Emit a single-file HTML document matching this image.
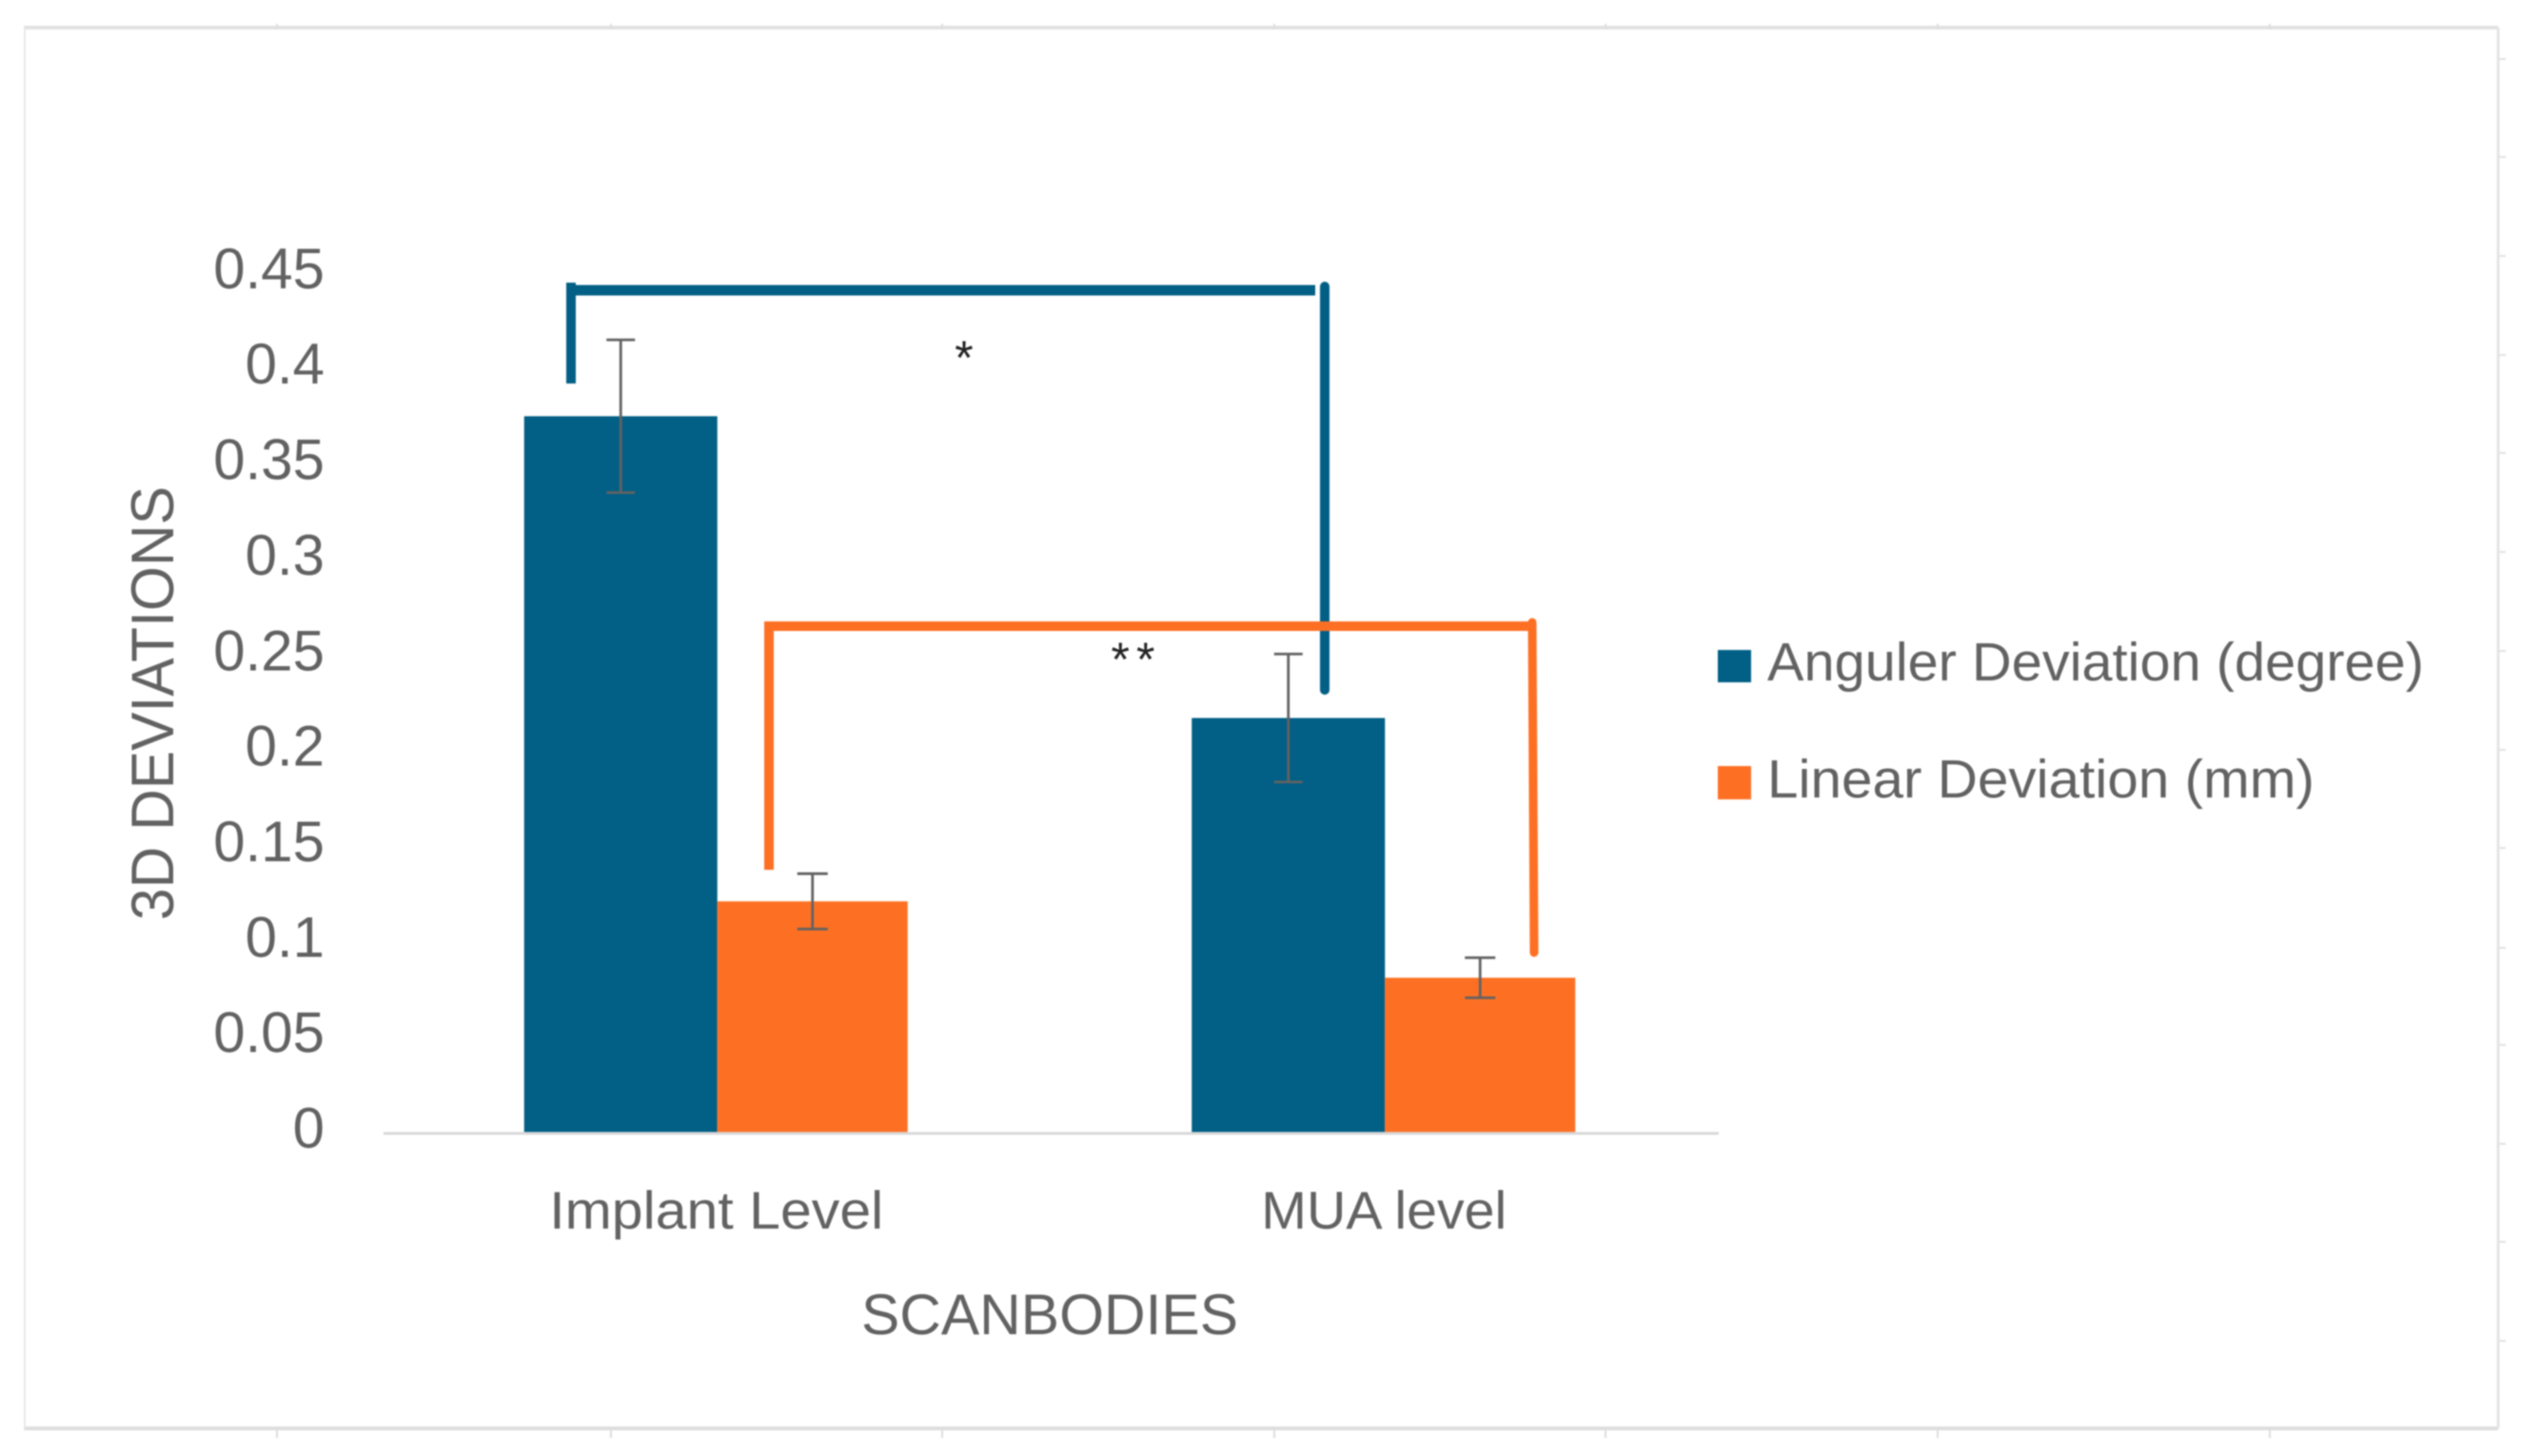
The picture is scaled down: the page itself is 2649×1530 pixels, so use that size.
<!DOCTYPE html>
<html lang="en">
<head>
<meta charset="utf-8">
<title>3D deviations by scanbody</title>
<style>
  html, body { margin: 0; padding: 0; background: #fff; }
  body { width: 2649px; height: 1530px; overflow: hidden; }
  svg { display: block; filter: blur(0.8px); }
  text { font-family: "Liberation Sans", sans-serif; fill: #626262; }
</style>
</head>
<body>
<svg id="chart" xmlns="http://www.w3.org/2000/svg" width="2649" height="1530" viewBox="0 0 2649 1530">
  <rect x="0" y="0" width="2649" height="1530" fill="#ffffff"/>
  <g id="frame" fill="none">
    <line x1="25" y1="29" x2="2625" y2="29" stroke="#e2e2e2" stroke-width="4"/>
    <line x1="25" y1="1501" x2="2625" y2="1501" stroke="#dedede" stroke-width="4"/>
    <line x1="26" y1="29" x2="26" y2="1501" stroke="#e8e8e8" stroke-width="2"/>
    <line x1="2625" y1="29" x2="2625" y2="1501" stroke="#e4e4e4" stroke-width="3"/>
  </g>
  <g id="gridmarks"></g>
  <g id="bars"></g>
  <line id="x-axis" x1="403" y1="1191" x2="1806" y2="1191" stroke="#d9d9d9" stroke-width="3"/>
  <g id="errors"></g>
  <g id="yticks"></g>
  <g id="xticks"></g>
  <text transform="translate(182,739) rotate(-90)" text-anchor="middle" font-size="63" textLength="456" lengthAdjust="spacingAndGlyphs">3D DEVIATIONS</text>
  <text x="905" y="1402" font-size="60" textLength="396" lengthAdjust="spacingAndGlyphs">SCANBODIES</text>

  <g fill="none" stroke="#025f85">
    <line x1="600" y1="297" x2="600" y2="403" stroke-width="10"/>
    <line x1="595" y1="305" x2="1382" y2="305" stroke-width="11"/>
    <line x1="1392" y1="301" x2="1392" y2="725" stroke-width="10" stroke-linecap="round"/>
  </g>
  <g fill="none" stroke="#fd7024">
    <line x1="808" y1="655" x2="808" y2="914" stroke-width="10"/>
    <line x1="803" y1="658" x2="1614" y2="658" stroke-width="10"/>
    <line x1="1610" y1="654" x2="1612" y2="1001" stroke-width="9" stroke-linecap="round"/>
  </g>
  <text x="1013" y="393" text-anchor="middle" font-size="50" style="fill:#222">*</text>
  <text x="1194" y="710" text-anchor="middle" font-size="50" letter-spacing="7" style="fill:#222">**</text>

  <g>
    <g>
      <rect x="1805" y="683" width="35" height="34" fill="#025f85"/>
      <text x="1857" y="715" font-size="57" textLength="690" lengthAdjust="spacingAndGlyphs">Anguler Deviation (degree)</text>
    </g>
    <g>
      <rect x="1805" y="805" width="35" height="35" fill="#fd7024"/>
      <text x="1857" y="838" font-size="57" textLength="575" lengthAdjust="spacingAndGlyphs">Linear Deviation (mm)</text>
    </g>
  </g>
</svg>
<script>
const categories = ["Implant Level", "MUA level"];
const angularValues = [0.375, 0.217];
const angularErrors = [0.040, 0.0335];
const linearValues = [0.121, 0.081];
const linearErrors = [0.0145, 0.0105];
const yTickValues = [0, 0.05, 0.1, 0.15, 0.2, 0.25, 0.3, 0.35, 0.4, 0.45];
const yTickLabels = ["0", "0.05", "0.1", "0.15", "0.2", "0.25", "0.3", "0.35", "0.4", "0.45"];

const NS = "http://www.w3.org/2000/svg";
const plotLeft = 403, plotRight = 1806, plotBottom = 1190, pxPerUnit = 2007;
const angularWidth = 203, linearWidth = 200;
const COLOR_ANGULAR = "#025f85", COLOR_LINEAR = "#fd7024";

function yScale(v) { return plotBottom - v * pxPerUnit; }
function xCenter(i) { return plotLeft + (plotRight - plotLeft) * (i + 0.5) / categories.length; }
function make(tag, attrs, parent) {
  const el = document.createElementNS(NS, tag);
  for (const k in attrs) el.setAttribute(k, attrs[k]);
  parent.appendChild(el);
  return el;
}

const barsG = document.getElementById("bars");
const errG = document.getElementById("errors");
const yG = document.getElementById("yticks");
const xG = document.getElementById("xticks");
const marksG = document.getElementById("gridmarks");

function drawError(cx, value, err, capWidth) {
  const top = yScale(value + err), bottom = yScale(value - err);
  const g = make("g", { stroke: "#626262", "stroke-width": 2.8, fill: "none" }, errG);
  
  
  make("line", { x1: cx, y1: top, x2: cx, y2: bottom }, g);
  make("line", { x1: cx - capWidth / 2, y1: top, x2: cx + capWidth / 2, y2: top }, g);
  make("line", { x1: cx - capWidth / 2, y1: bottom, x2: cx + capWidth / 2, y2: bottom }, g);
}

categories.forEach(function (cat, i) {
  const c = xCenter(i);
  const a = make("rect", { x: c - angularWidth, y: yScale(angularValues[i]), width: angularWidth, height: plotBottom - yScale(angularValues[i]), fill: COLOR_ANGULAR }, barsG);
  
  
  const l = make("rect", { x: c, y: yScale(linearValues[i]), width: linearWidth, height: plotBottom - yScale(linearValues[i]), fill: COLOR_LINEAR }, barsG);
  
  
  drawError(c - angularWidth / 2, angularValues[i], angularErrors[i], 30);
  drawError(c + linearWidth / 2, linearValues[i], linearErrors[i], 32);

  const t = make("text", { x: c - 1, y: 1291, "text-anchor": "middle", "font-size": 56 }, xG);
  
  
  t.setAttribute("textLength", i === 0 ? 351 : 258);
  t.setAttribute("lengthAdjust", "spacingAndGlyphs");
  t.textContent = cat;
});

yTickValues.forEach(function (v, i) {
  const t = make("text", { x: 341, y: yScale(v) + 16, "text-anchor": "end", "font-size": 60 }, yG);
  
  
  t.textContent = yTickLabels[i];
});

[291, 642, 990, 1339, 1687, 2036, 2385].forEach(function (x) {
  const top = make("line", { x1: x, y1: 25, x2: x, y2: 31, stroke: "#dddddd", "stroke-width": 2 }, marksG);
  
  
  const bot = make("line", { x1: x, y1: 1501, x2: x, y2: 1511, stroke: "#dddddd", "stroke-width": 2 }, marksG);
  
  
});
[62, 165, 269, 373, 476, 580, 684, 788, 891, 996, 1098, 1202, 1305, 1409].forEach(function (y) {
  const r = make("line", { x1: 2625, y1: y, x2: 2633, y2: y, stroke: "#e2e2e2", "stroke-width": 2 }, marksG);
  
  
});
</script>
</body>
</html>
